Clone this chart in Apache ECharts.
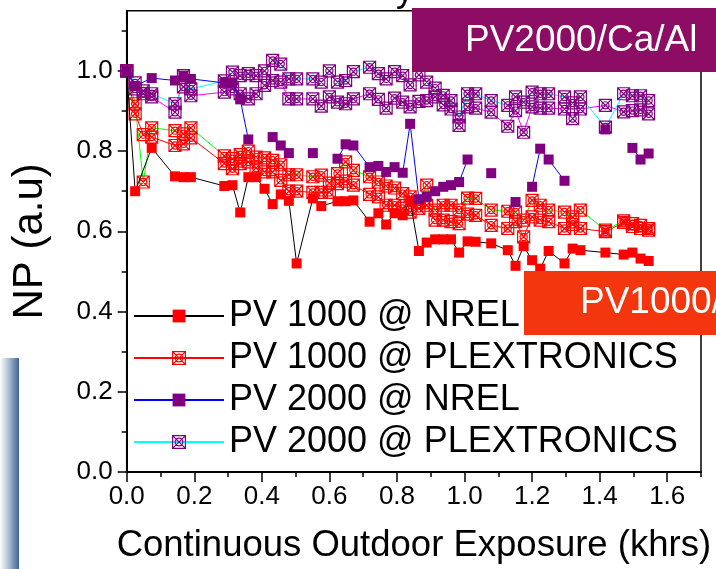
<!DOCTYPE html>
<html>
<head>
<meta charset="utf-8">
<script src="https://cdn.jsdelivr.net/npm/echarts@6/dist/echarts.min.js"></script>
<style>
html,body{margin:0;padding:0;background:#fff;}
#chart{width:716px;height:569px;}
</style>
</head>
<body>
<div id="chart"></div>
<script>
// ---- data (x in khrs, y = normalized NP); null = gap in the connecting line ----
const seriesNames = ['PV 1000 @ NREL', 'PV 1000 @ PLEXTRONICS', 'PV 2000 @ NREL', 'PV 2000 @ PLEXTRONICS'];
const xMajorTicks = [0, 0.2, 0.4, 0.6, 0.8, 1.0, 1.2, 1.4, 1.6];
const xMinorTicks = [0.1, 0.3, 0.5, 0.7, 0.9, 1.1, 1.3, 1.5, 1.7];
const yMajorTicks = [0, 0.2, 0.4, 0.6, 0.8, 1.0];
const yMinorTicks = [0.1, 0.3, 0.5, 0.7, 0.9, 1.1];

const pv1000Nrel = [[0,1.0],[0.025,0.70],[0.074,0.808],[0.143,0.737],[0.168,0.735],[0.19,0.735],[0.289,0.713],[0.313,0.715],[0.336,0.647],[0.36,0.735],[0.383,0.735],[0.408,0.706],[0.432,0.668],[0.456,0.692],[0.48,0.676],[0.503,0.52],[0.551,0.682],[0.576,0.663],[0.624,0.675],[0.648,0.675],[0.671,0.677],[0.719,0.624],[0.745,0.645],[0.768,0.617],[0.793,0.645],[0.817,0.64],[0.839,0.676],[0.865,0.551],[0.888,0.572],[0.913,0.58],[0.937,0.58],[0.96,0.58],[0.984,0.547],[1.009,0.575],[1.033,0.574],[1.079,0.57],[1.128,0.553],[1.151,0.514],[1.175,0.563],[1.2,0.528],[1.224,0.507],[1.249,0.551],[1.296,0.52],[1.32,0.557],[1.343,0.553],[1.417,0.547],[1.471,0.542],[1.497,0.547],[1.521,0.532],[1.545,0.526]];

// PLEXTRONICS PV1000, device shown in legend (red line) and second device (green line)
const pv1000PlexA = [[0,1.0],[0.025,0.893],[0.049,0.841],[0.074,0.835],[0.143,0.814],[0.168,0.818],[0.19,0.833],[0.289,0.769],[0.313,0.756],[0.336,0.769],[0.36,0.773],[0.383,0.758],[0.408,0.748],[0.432,0.748],[0.456,0.727],[0.48,0.70],[0.503,0.70],[0.551,0.697],[0.576,0.697],[0.60,0.697],[0.624,0.719],[0.648,0.725],[0.671,0.715],[0.719,0.692],[0.745,0.686],[0.768,0.665],[0.793,0.665],[0.817,0.657],[0.839,0.648],[0.865,0.657],[0.888,0.665],[0.913,0.628],[0.937,0.628],[0.96,0.624],[0.984,0.619],[1.009,0.643],[1.033,0.64],[1.079,0.615],[1.128,0.607],[1.151,0.624],[1.175,0.586],[1.2,0.636],[1.224,0.628],[1.249,0.624],[1.296,0.607],[1.32,0.617],[1.343,0.607],[1.417,0.599],[1.471,0.622],[1.497,0.612],[1.521,0.607],[1.545,0.603]];
const pv1000PlexB = [[0,1.0],[0.025,0.918],[0.049,0.723],[0.074,0.858],[0.143,0.851],[0.168,0.843],[0.19,0.858],[0.289,0.788],[0.313,0.781],[0.336,0.791],[0.36,0.80],[0.383,0.785],[0.408,0.783],[0.432,0.777],[0.456,0.766],[0.48,0.741],[0.503,0.741],[0.551,0.736],[0.576,0.74],[0.60,0.72],[0.624,0.744],[0.648,0.773],[0.671,0.752],[0.719,0.736],[0.745,0.723],[0.768,0.713],[0.793,0.708],[0.817,0.694],[0.839,0.686],[0.865,0.673],[0.888,0.715],[0.913,0.653],[0.937,0.665],[0.96,0.665],[0.984,0.653],[1.009,0.683],[1.033,0.682],[1.079,0.653],[1.128,0.65],[1.151,0.648],[1.175,0.628],[1.2,0.677],[1.224,0.665],[1.249,0.653],[1.296,0.648],[1.32,0.636],[1.343,0.653],[1.417,0.603],[1.471,0.626],[1.497,0.619],[1.521,0.615],[1.545,0.607]];

const pv2000Nrel = [[0,1.0],[0.025,0.962],[0.074,0.982],[0.143,0.976],[0.168,0.988],[0.19,0.98],[0.289,0.97],[0.313,0.97],[0.336,0.929],[0.36,0.829],null,[0.432,0.835],[0.456,0.814],[0.48,0.795],null,[0.551,0.795],null,[0.624,0.781],[0.648,0.817],[0.671,0.814],[0.719,0.76],[0.745,0.763],[0.768,0.748],[0.793,0.76],[0.817,0.746],[0.839,0.868],[0.865,0.68],[0.888,0.686],[0.913,0.70],[0.937,0.711],[0.96,0.715],[0.984,0.723],[1.009,0.779],null,[1.079,0.745],null,[1.151,0.673],null,[1.2,0.711],[1.224,0.806],[1.249,0.779],[1.296,0.726],null,[1.417,0.854],null,[1.497,0.808],[1.521,0.779],[1.545,0.794]];

// PLEXTRONICS PV2000, device shown in legend (cyan line) and second device (magenta line)
const pv2000PlexA = [[0,1.0],[0.025,0.97],[0.049,0.95],[0.074,0.943],[0.143,0.918],[0.168,0.96],[0.19,0.955],[0.289,0.975],[0.313,0.997],[0.336,0.988],[0.36,0.993],[0.383,0.988],[0.408,1.0],[0.432,1.026],[0.456,1.017],[0.48,0.98],[0.503,0.98],[0.551,0.98],[0.576,0.972],[0.60,1.0],[0.624,0.972],[0.648,0.976],[0.671,0.998],[0.719,1.009],[0.745,0.993],[0.768,0.98],[0.793,0.998],[0.817,0.988],[0.839,0.965],[0.865,0.99],[0.888,0.972],[0.913,0.957],[0.937,0.939],[0.96,0.926],[0.984,0.885],[1.009,0.943],[1.033,0.943],[1.079,0.926],[1.128,0.914],[1.151,0.935],[1.175,0.922],[1.2,0.947],[1.224,0.943],[1.249,0.943],[1.296,0.935],[1.32,0.92],[1.343,0.935],[1.417,0.86],[1.471,0.943],[1.497,0.938],[1.521,0.938],[1.545,0.926]];
const pv2000PlexB = [[0,1.0],[0.025,0.955],[0.049,0.943],[0.074,0.935],[0.143,0.897],[0.168,0.988],[0.19,0.938],[0.289,0.947],[0.313,0.955],[0.336,0.943],[0.36,0.93],[0.383,0.943],[0.408,0.964],[0.432,0.976],[0.456,0.972],[0.48,0.93],[0.503,0.93],[0.551,0.93],[0.576,0.912],[0.60,0.935],[0.624,0.922],[0.648,0.918],[0.671,0.93],[0.719,0.943],[0.745,0.929],[0.768,0.907],[0.793,0.932],[0.817,0.922],[0.839,0.91],[0.865,0.924],[0.888,0.926],[0.913,0.935],[0.937,0.915],[0.96,0.905],[0.984,0.864],[1.009,0.91],[1.033,0.907],[1.079,0.897],[1.128,0.862],[1.151,0.901],[1.175,0.847],[1.2,0.91],[1.224,0.907],[1.249,0.907],[1.296,0.905],[1.32,0.881],[1.343,0.905],[1.417,0.914],[1.471,0.898],[1.497,0.901],[1.521,0.903],[1.545,0.893]];

// ---- rendering ----
const FONT = '"Liberation Sans", Arial, Helvetica, sans-serif';
const CROSS = 'path://M0,0H20V20H0Z M0,0L20,20 M20,0L0,20 M4,10A6,6 0 1 1 16,10A6,6 0 1 1 4,10';
const CLEAR = 'rgba(255,255,255,0)';
const prep = arr => arr.map(p => p === null ? ['-', '-'] : p);

function lineSeries(name, data, lineColor, symbol, symColor, filled, size, z) {
  return {
    name: name, type: 'line', data: prep(data), xAxisIndex: 0, yAxisIndex: 0,
    symbol: symbol, symbolSize: size, showSymbol: true, connectNulls: false,
    lineStyle: {color: lineColor, width: 1},
    itemStyle: filled ? {color: symColor} : {color: CLEAR, borderColor: symColor, borderWidth: 1.2},
    emphasis: {disabled: true}, z: z, animation: false
  };
}

const chart = echarts.init(document.getElementById('chart'), null, {renderer: 'canvas'});
const isOn = (v, arr) => arr.some(t => Math.abs(t - v) < 1e-6);

chart.setOption({
  animation: false,
  backgroundColor: '#ffffff',
  textStyle: {fontFamily: FONT},
  grid: {left: 126.7, right: 15, top: 10.7, bottom: 94, show: true, borderColor: '#000', borderWidth: 1.5},
  legend: {
    orient: 'vertical', left: 128, top: 293, itemWidth: 90, itemHeight: 16, itemGap: 6,
    data: [
      {name: seriesNames[0], itemStyle: {color: '#ff0000', borderWidth: 0}},
      {name: seriesNames[1], itemStyle: {color: CLEAR, borderColor: '#ff0000', borderWidth: 1.2}},
      {name: seriesNames[2], itemStyle: {color: '#800080', borderWidth: 0}},
      {name: seriesNames[3], itemStyle: {color: CLEAR, borderColor: '#800080', borderWidth: 1.2}}
    ],
    textStyle: {fontSize: 36, color: '#000', fontFamily: FONT, lineHeight: 36},
    selectedMode: false
  },
  xAxis: [
    {type: 'value', min: 0, max: 1.7, interval: 0.2, position: 'bottom',
     name: 'Continuous Outdoor Exposure (khrs)', nameLocation: 'middle', nameGap: 55,
     nameTextStyle: {fontSize: 36.5, color: '#000', fontFamily: FONT},
     axisLine: {show: true, onZero: false, lineStyle: {color: '#000', width: 2}},
     axisTick: {show: true, inside: false, length: 10, lineStyle: {color: '#000', width: 1.5}, customValues: xMajorTicks},
     axisLabel: {show: true, fontSize: 26, color: '#000', margin: 12, customValues: xMajorTicks,
       formatter: v => isOn(v, xMajorTicks) ? v.toFixed(1) : ''},
     splitLine: {show: false}},
    {type: 'value', min: 0, max: 1.7, interval: 0.1, position: 'bottom',
     axisLine: {show: false}, axisLabel: {show: false}, splitLine: {show: false},
     axisTick: {show: true, inside: false, length: 5, lineStyle: {color: '#000', width: 1.5}, customValues: xMinorTicks}}
  ],
  yAxis: [
    {type: 'value', min: 0, max: 1.15, interval: 0.2, position: 'left',
     name: 'NP (a.u)', nameLocation: 'middle', nameGap: 75, nameRotate: 90,
     nameTextStyle: {fontSize: 42, color: '#000', fontFamily: FONT},
     axisLine: {show: true, onZero: false, lineStyle: {color: '#000', width: 2}},
     axisTick: {show: true, inside: false, length: 9, lineStyle: {color: '#000', width: 1.5}, customValues: yMajorTicks},
     axisLabel: {show: true, fontSize: 26, color: '#000', margin: 14, customValues: yMajorTicks,
       formatter: v => isOn(v, yMajorTicks) ? v.toFixed(1) : ''},
     splitLine: {show: false}},
    {type: 'value', min: 0, max: 1.15, interval: 0.1, position: 'left',
     axisLine: {show: false}, axisLabel: {show: false}, splitLine: {show: false},
     axisTick: {show: true, inside: false, length: 5, lineStyle: {color: '#000', width: 1.5}, customValues: yMinorTicks}}
  ],
  series: [
    lineSeries('PV 1000 @ PLEXTRONICS (2)', pv1000PlexB, '#00ff00', CROSS, '#ff0000', false, 12, 2),
    lineSeries(seriesNames[1], pv1000PlexA, '#ff0000', CROSS, '#ff0000', false, 12, 2),
    lineSeries('PV 2000 @ PLEXTRONICS (2)', pv2000PlexB, '#ff00ff', CROSS, '#800080', false, 12, 2),
    lineSeries(seriesNames[3], pv2000PlexA, '#00ffff', CROSS, '#800080', false, 12, 2),
    lineSeries(seriesNames[0], pv1000Nrel, '#000000', 'rect', '#ff0000', true, 10, 3),
    lineSeries(seriesNames[2], pv2000Nrel, '#0000ff', 'rect', '#800080', true, 10, 3)
  ],
  graphic: [
    {type: 'rect', left: 0, top: 358, z: 50, shape: {width: 19, height: 211},
     style: {fill: new echarts.graphic.LinearGradient(0, 0, 1, 0, [
       {offset: 0, color: '#ffffff'}, {offset: 0.45, color: '#aebfd4'}, {offset: 1, color: '#3d6697'}])}},
    {type: 'text', x: 396, y: 9, z: 50,
     style: {text: 'y', fontSize: 36, fontFamily: FONT, fill: '#000', verticalAlign: 'bottom', align: 'left'}},
    {type: 'rect', x: 412, y: 8, z: 100, shape: {width: 304, height: 64}, style: {fill: '#8c0d63'}},
    {type: 'text', x: 465, y: 41, z: 101,
     style: {text: 'PV2000/Ca/Al', fontSize: 37, fontFamily: FONT, fill: '#ffffff', verticalAlign: 'middle'}},
    {type: 'rect', x: 524, y: 271, z: 100, shape: {width: 192, height: 64}, style: {fill: '#f4360e'}},
    {type: 'text', x: 580, y: 303, z: 101,
     style: {text: 'PV1000/Ca/Al', fontSize: 37, fontFamily: FONT, fill: '#ffffff', verticalAlign: 'middle'}}
  ]
});
</script>
</body>
</html>
